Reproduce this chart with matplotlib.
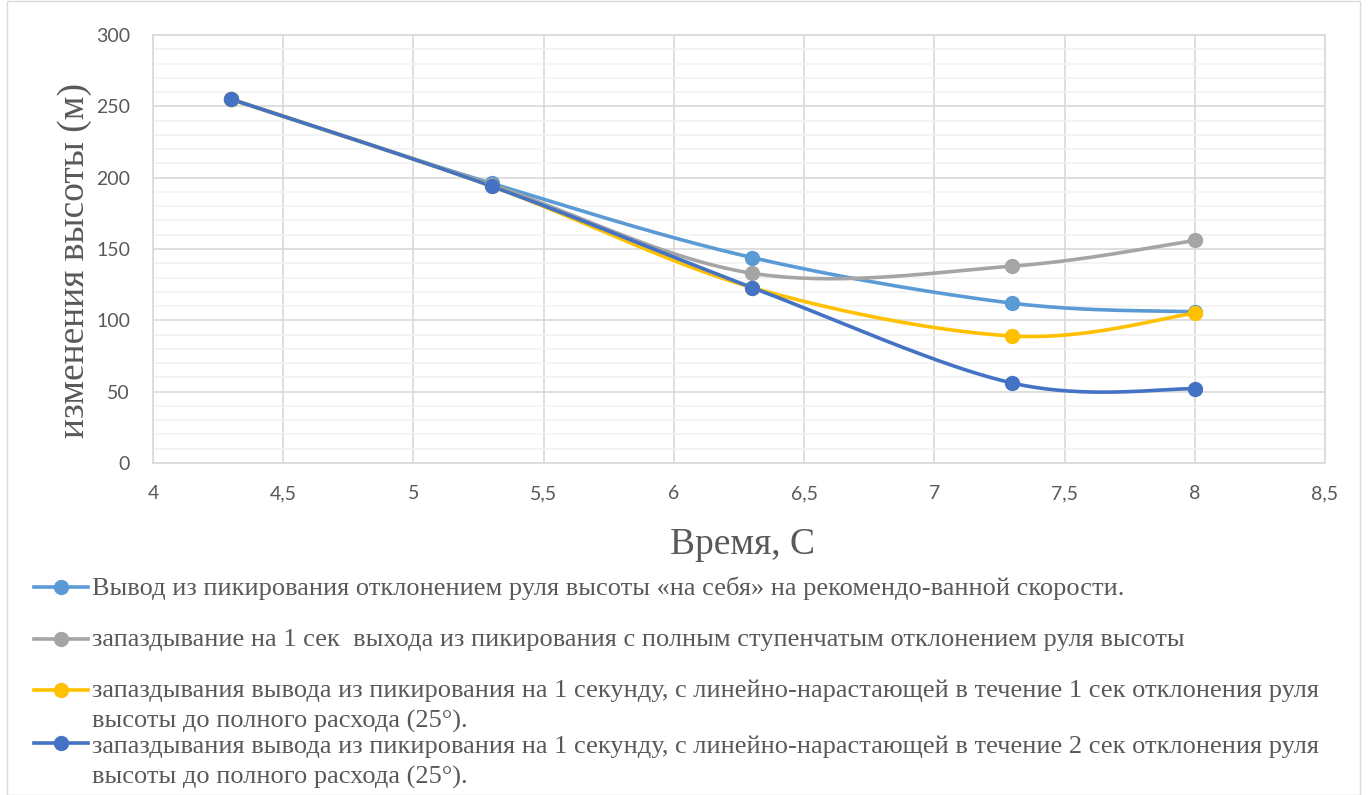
import matplotlib.pyplot as plt
import numpy as np
from matplotlib.lines import Line2D
from matplotlib.patches import Rectangle
from matplotlib.ticker import MultipleLocator, FuncFormatter

# data
time_s = [4.3, 5.3, 6.3, 7.3, 8.0]
s_recommended = [255, 196, 144, 112, 106]
s_step_delay = [255, 195, 133, 138, 156]
s_ramp_1s = [255, 194, 123, 89, 105]
s_ramp_2s = [255, 194, 123, 56, 52]

labels = [
    "Вывод из пикирования отклонением руля высоты «на себя» на рекомендо-ванной скорости.",
    "запаздывание на 1 сек  выхода из пикирования с полным ступенчатым отклонением руля высоты",
    "запаздывания вывода из пикирования на 1 секунду, с линейно-нарастающей в течение 1 сек отклонения руля\nвысоты до полного расхода (25°).",
    "запаздывания вывода из пикирования на 1 секунду, с линейно-нарастающей в течение 2 сек отклонения руля\nвысоты до полного расхода (25°).",
]
colors = ["#5B9BD5", "#A5A5A5", "#FFC000", "#4472C4"]
series = [s_recommended, s_step_delay, s_ramp_1s, s_ramp_2s]

W, H = 1368, 795


def smooth(xs, ys, n=40):
    # catmull-rom style bezier, like excel's smoothed line
    p = np.column_stack([xs, ys]).astype(float)
    p = np.vstack([p[0], p, p[-1]])
    out = []
    for i in range(1, len(p) - 2):
        p0, p1, p2, p3 = p[i - 1], p[i], p[i + 1], p[i + 2]
        c1 = p1 + (p2 - p0) / 6
        c2 = p2 - (p3 - p1) / 6
        t = np.linspace(0, 1, n)[:, None]
        seg = (1 - t) ** 3 * p1 + 3 * (1 - t) ** 2 * t * c1 + 3 * (1 - t) * t ** 2 * c2 + t ** 3 * p2
        out.append(seg)
    out = np.vstack(out)
    return out[:, 0], out[:, 1]


fig = plt.figure(figsize=(W / 100, H / 100), dpi=100)
ax = fig.add_axes([153 / W, 1 - 463 / H, (1325 - 153) / W, (463 - 35) / H])

tick_font = "Lato"
serif = "Liberation Serif"
grey = "#595959"

for ys, c in zip(series, colors):
    sx, sy = smooth(time_s, ys)
    ax.plot(sx, sy, color=c, lw=2.6, solid_capstyle='round', zorder=3)
    ax.plot(time_s, ys, 'o', color=c, ms=10, zorder=4)

ax.set_xlim(4, 8.5)
ax.set_ylim(0, 300)
ax.xaxis.set_major_locator(MultipleLocator(0.5))
ax.yaxis.set_major_locator(MultipleLocator(50))
ax.yaxis.set_minor_locator(MultipleLocator(10))
ax.xaxis.set_major_formatter(FuncFormatter(lambda v, p: ("%g" % v).replace('.', ',')))
ax.grid(which='major', color='#D9D9D9', lw=1.2)
ax.grid(which='minor', axis='y', color='#F2F2F2', lw=1.2)
ax.set_axisbelow(True)
ax.tick_params(which='both', length=0)
ax.tick_params(axis='y', pad=16.5)
ax.tick_params(axis='x', pad=16)
for lab in ax.get_xticklabels() + ax.get_yticklabels():
    lab.set_fontfamily(tick_font)
    lab.set_fontsize(14)
    lab.set_color(grey)
for s in ax.spines.values():
    s.set_color('#D9D9D9')
    s.set_linewidth(1.2)

# axis titles
fig.text(742 / W, 1 - 545 / H, "Время, С", fontfamily=serif, fontsize=27, color=grey,
         ha='center', va='center')
fig.text(75 / W, 1 - 261 / H, "изменения высоты (м)", fontfamily=serif, fontsize=27,
         color=grey, ha='center', va='center', rotation=90)

# legend drawn by hand to match the wrapped layout
mark_y = [587, 639, 690, 743]
base_y = [595, 646, 697, 753]
for lab, c, my, by in zip(labels, colors, mark_y, base_y):
    yf = 1 - my / H
    fig.add_artist(Line2D([34 / W, 88 / W], [yf, yf], color=c, lw=2.6,
                          transform=fig.transFigure))
    fig.add_artist(Line2D([61 / W], [yf], marker='o', color=c, ms=10,
                          transform=fig.transFigure))
    for k, line in enumerate(lab.split('\n')):
        fig.text(92 / W, 1 - (by + 31 * k) / H, line, fontfamily=serif, fontsize=19,
                 color=grey, va='baseline', ha='left')

fig.add_artist(Rectangle((7 / W, 0), 1353 / W, 0.999, fill=False, ec='#D9D9D9', lw=1,
                         transform=fig.transFigure))

fig.savefig("out.png", dpi=100, facecolor='white')
